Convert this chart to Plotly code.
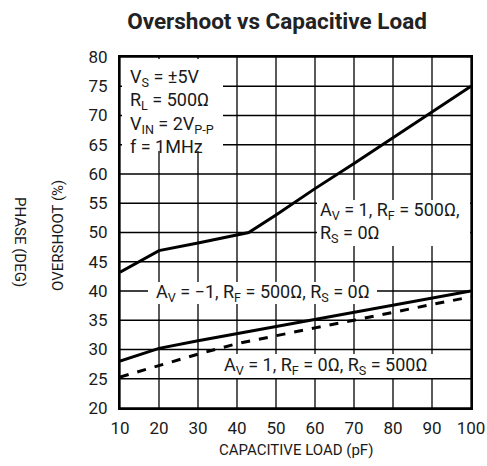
import plotly.graph_objects as go

cap_pf = [10, 20, 30, 40, 43, 50, 60, 70, 80, 90, 100]
ov_av1_rf500 = [43.2, 46.9, 48.2, 49.5, 50.0, 53.0, 57.5, 61.8, 66.2, 70.6, 75.0]
cap_pf2 = [10, 20, 30, 40, 50, 60, 70, 80, 90, 100]
ov_avm1 = [28.0, 30.2, 31.5, 32.7, 33.9, 35.1, 36.3, 37.5, 38.7, 40.0]
ov_av1_rs500 = [25.3, 27.3, 29.2, 31.0, 32.4, 33.7, 35.0, 36.4, 37.7, 39.0]

x_ticks = [10, 20, 30, 40, 50, 60, 70, 80, 90, 100]
y_ticks = [20, 25, 30, 35, 40, 45, 50, 55, 60, 65, 70, 75, 80]

FONT = "Roboto, Liberation Sans, sans-serif"
TXT = "#1a1a1a"

FIG_W, FIG_H = 487, 466
L, R, T, B = 120, 471, 57, 408  # plot area in pixels
W, H = R - L, B - T


def px(xp):
    return (xp - L) / W


def py(yp):
    return (B - yp) / H


fig = go.Figure()

# grid lines
for xv in x_ticks:
    fig.add_shape(type="line", xref="x", yref="paper", x0=xv, x1=xv, y0=0, y1=1,
                  line=dict(color="black", width=1.3), layer="below")
for yv in y_ticks:
    fig.add_shape(type="line", xref="paper", yref="y", x0=0, x1=1, y0=yv, y1=yv,
                  line=dict(color="black", width=1.3), layer="below")

line_style = dict(color="black", width=3)
fig.add_trace(go.Scatter(x=cap_pf, y=ov_av1_rf500, mode="lines", line=line_style, showlegend=False))
fig.add_trace(go.Scatter(x=cap_pf2, y=ov_avm1, mode="lines", line=line_style, showlegend=False))
fig.add_trace(go.Scatter(x=cap_pf2, y=ov_av1_rs500, mode="lines",
                         line=dict(color="black", width=3, dash="dash"), showlegend=False))

# white label backgrounds hiding the grid (pixel boxes: x0, y0, x1, y1)
boxes = [(121.5, 58.5, 222, 150), (317, 200, 469.5, 246), (148, 282, 377, 304), (204, 354, 469.5, 378)]
for x0, y0, x1, y1 in boxes:
    fig.add_annotation(xref="paper", yref="paper", x=px(x0), y=py(y0), xanchor="left", yanchor="top",
                       width=x1 - x0, height=y1 - y0, text=" ", showarrow=False,
                       bgcolor="white", borderpad=0, borderwidth=0)

fs = 17
afs = 18
fig.add_annotation(xref="paper", yref="paper", x=px(128), y=py(64), xanchor="left", yanchor="top", align="left",
                   showarrow=False, font=dict(family=FONT, size=afs, color=TXT),
                   text="V<sub>S</sub> = ±5V<br>R<sub>L</sub> = 500Ω<br>V<sub>IN</sub> = 2V<sub>P-P</sub><br>f = 1MHz")
fig.add_annotation(xref="paper", yref="paper", x=px(318), y=py(222), xanchor="left", yanchor="middle", align="left",
                   showarrow=False, font=dict(family=FONT, size=afs, color=TXT),
                   text="A<sub>V</sub> = 1, R<sub>F</sub> = 500Ω,<br>R<sub>S</sub> = 0Ω")
fig.add_annotation(xref="paper", yref="paper", x=px(154), y=py(293), xanchor="left", yanchor="middle", align="left",
                   showarrow=False, font=dict(family=FONT, size=afs, color=TXT),
                   text="A<sub>V</sub> = −1, R<sub>F</sub> = 500Ω, R<sub>S</sub> = 0Ω")
fig.add_annotation(xref="paper", yref="paper", x=px(222), y=py(366), xanchor="left", yanchor="middle", align="left",
                   showarrow=False, font=dict(family=FONT, size=afs, color=TXT),
                   text="A<sub>V</sub> = 1, R<sub>F</sub> = 0Ω, R<sub>S</sub> = 500Ω")

fig.add_annotation(xref="paper", yref="paper", x=px(58), y=py(236), xanchor="center", yanchor="middle",
                   showarrow=False, text="OVERSHOOT (%)", textangle=-90,
                   font=dict(family=FONT, size=15, color=TXT))
fig.add_annotation(xref="paper", yref="paper", x=px(20), y=py(242), xanchor="center", yanchor="middle",
                   showarrow=False, text="PHASE (DEG)", textangle=90,
                   font=dict(family=FONT, size=15, color=TXT))
fig.add_annotation(xref="paper", yref="paper", x=px(296), y=py(450), xanchor="center", yanchor="middle",
                   showarrow=False, text="CAPACITIVE LOAD (pF)",
                   font=dict(family=FONT, size=15, color=TXT))

fig.update_layout(
    width=FIG_W, height=FIG_H,
    margin=dict(l=L, r=FIG_W - R, t=T, b=FIG_H - B, autoexpand=False),
    paper_bgcolor="white", plot_bgcolor="white",
    title=dict(text="<b>Overshoot vs Capacitive Load</b>", x=277 / FIG_W, xanchor="center",
               y=1 - 21 / FIG_H, yanchor="middle",
               font=dict(family=FONT, size=22.5, color="#222")),
    font=dict(family=FONT, size=fs, color=TXT),
)
fig.update_xaxes(range=[10, 100], tickvals=x_ticks, ticktext=[str(v) for v in x_ticks],
                 showgrid=False, zeroline=False, automargin=False,
                 showline=True, linecolor="black", linewidth=2, mirror=True, ticks="",
                 ticklabelstandoff=4,
                 tickfont=dict(family=FONT, size=fs, color=TXT))
fig.update_yaxes(range=[20, 80], tickvals=y_ticks, ticktext=[str(v) for v in y_ticks],
                 showgrid=False, zeroline=False, automargin=False,
                 showline=True, linecolor="black", linewidth=2, mirror=True, ticks="",
                 ticklabelstandoff=7,
                 tickfont=dict(family=FONT, size=fs, color=TXT))

fig.write_html(
    "out.html",
    config={"displayModeBar": False},
    post_script=(
        "document.documentElement.style.margin='0';document.body.style.margin='0';"
        "document.body.style.padding='0';document.documentElement.style.overflow='hidden';"
        "document.body.style.overflow='hidden';"
    ),
)
